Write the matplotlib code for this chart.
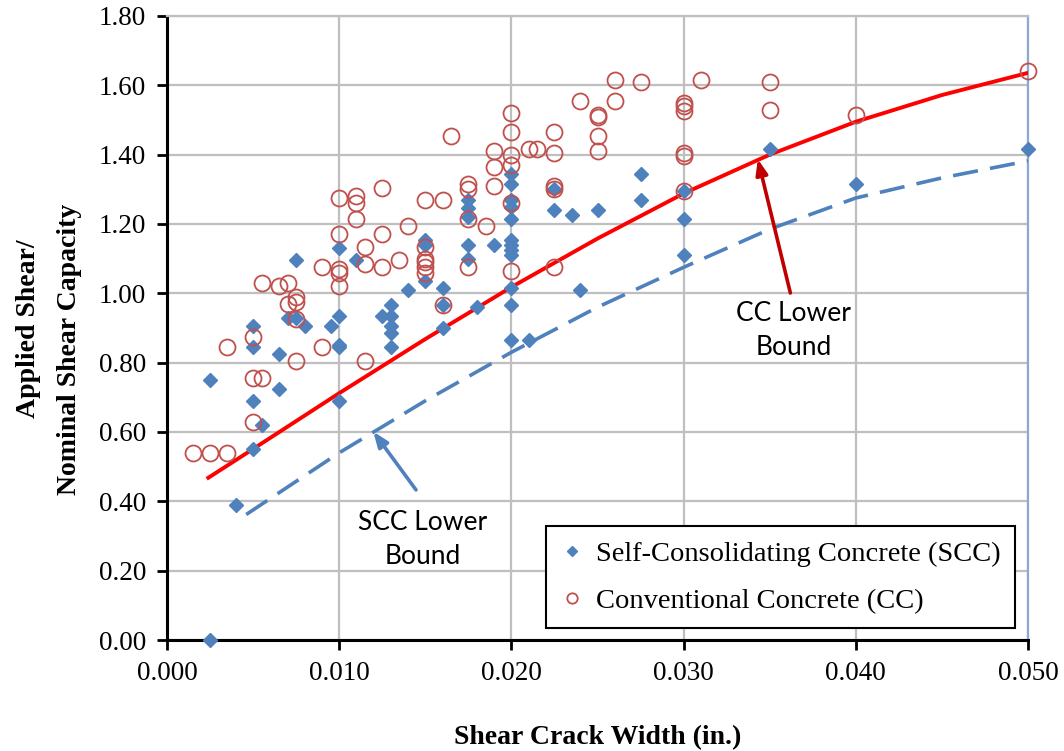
import matplotlib
matplotlib.use("Agg")
import matplotlib.pyplot as plt

# Self-consolidating concrete (SCC) test points
scc_x = [0.0025, 0.0025, 0.004, 0.005, 0.005, 0.005, 0.005, 0.0055, 0.0065, 0.0065,
         0.0075, 0.007, 0.0075, 0.008, 0.0095, 0.010, 0.010, 0.010, 0.010, 0.010,
         0.011, 0.020, 0.020, 0.020, 0.020, 0.020, 0.020, 0.020, 0.020, 0.020,
         0.020, 0.020, 0.020, 0.021, 0.0175, 0.0175, 0.0175, 0.0175, 0.0175, 0.019,
         0.015, 0.015, 0.015, 0.014, 0.016, 0.016, 0.016, 0.018, 0.013, 0.0125,
         0.013, 0.013, 0.013, 0.013, 0.0275, 0.0275, 0.0225, 0.0225, 0.0235, 0.025,
         0.030, 0.030, 0.030, 0.024, 0.035, 0.040, 0.050]
scc_y = [0.00, 0.75, 0.39, 0.55, 0.69, 0.845, 0.905, 0.62, 0.825, 0.725,
         1.095, 0.93, 0.93, 0.905, 0.905, 0.935, 0.85, 0.845, 0.69, 1.13,
         1.095, 1.345, 1.315, 1.27, 1.25, 1.215, 1.155, 1.14, 1.125, 1.11,
         1.015, 0.965, 0.865, 0.865, 1.27, 1.245, 1.22, 1.14, 1.10, 1.14,
         1.155, 1.14, 1.035, 1.01, 1.015, 0.965, 0.90, 0.96, 0.965, 0.935,
         0.935, 0.905, 0.885, 0.845, 1.345, 1.27, 1.30, 1.24, 1.225, 1.24,
         1.295, 1.215, 1.11, 1.01, 1.415, 1.315, 1.415]

# Conventional concrete (CC) test points
cc_x = [0.0015, 0.0025, 0.0035, 0.0035, 0.005, 0.005, 0.0055, 0.005, 0.0055, 0.0065,
        0.007, 0.007, 0.0075, 0.0075, 0.0075, 0.0075, 0.009, 0.009, 0.010, 0.010,
        0.010, 0.0165, 0.020, 0.019, 0.020, 0.020, 0.019, 0.021, 0.0215, 0.019,
        0.0175, 0.0175, 0.0125, 0.010, 0.011, 0.011, 0.015, 0.016, 0.020, 0.011,
        0.014, 0.0175, 0.0185, 0.010, 0.0125, 0.015, 0.0115, 0.0115, 0.0125, 0.0135,
        0.015, 0.015, 0.015, 0.015, 0.0175, 0.020, 0.016, 0.0115, 0.026, 0.0275,
        0.031, 0.024, 0.026, 0.025, 0.025, 0.030, 0.030, 0.030, 0.020, 0.0225,
        0.025, 0.025, 0.0225, 0.030, 0.030, 0.0225, 0.0225, 0.030, 0.0225, 0.035,
        0.035, 0.040, 0.050]
cc_y = [0.54, 0.54, 0.54, 0.845, 0.63, 0.755, 0.755, 0.875, 1.03, 1.02,
        1.03, 0.97, 0.99, 0.975, 0.925, 0.805, 1.075, 0.845, 1.07, 1.06,
        1.02, 1.455, 1.465, 1.41, 1.40, 1.37, 1.365, 1.415, 1.415, 1.31,
        1.315, 1.30, 1.305, 1.275, 1.28, 1.26, 1.27, 1.27, 1.26, 1.215,
        1.195, 1.215, 1.195, 1.17, 1.17, 1.135, 1.135, 1.085, 1.075, 1.095,
        1.10, 1.09, 1.075, 1.06, 1.075, 1.065, 0.965, 0.805, 1.615, 1.61,
        1.615, 1.555, 1.555, 1.515, 1.51, 1.55, 1.54, 1.525, 1.52, 1.465,
        1.455, 1.41, 1.405, 1.405, 1.395, 1.31, 1.30, 1.295, 1.075, 1.61,
        1.53, 1.515, 1.64]

# lower bound curves
cc_bound_x = [0.0024, 0.005, 0.010, 0.015, 0.020, 0.025, 0.030, 0.035, 0.040, 0.045, 0.050]
cc_bound_y = [0.468, 0.551, 0.712, 0.868, 1.018, 1.158, 1.288, 1.400, 1.495, 1.572, 1.636]
scc_bound_x = [0.0046, 0.010, 0.015, 0.020, 0.025, 0.030, 0.035, 0.040, 0.045, 0.050]
scc_bound_y = [0.362, 0.54, 0.69, 0.83, 0.96, 1.075, 1.185, 1.275, 1.333, 1.382]

x_ticks = [0.000, 0.010, 0.020, 0.030, 0.040, 0.050]
y_ticks = [0.00, 0.20, 0.40, 0.60, 0.80, 1.00, 1.20, 1.40, 1.60, 1.80]

BLUE = "#4F81BD"
RED_MARK = "#C0504D"
SERIF = "Liberation Serif"
SANS = "Lato"

fig = plt.figure(figsize=(10.64, 7.51), dpi=100)
ax = fig.add_axes([167 / 1064, 1 - 640 / 751, 861 / 1064, 624 / 751])

ax.plot(cc_bound_x, cc_bound_y, color="#FF0000", lw=2.8, zorder=3)
ax.plot(scc_bound_x, scc_bound_y, color=BLUE, lw=2.6, dashes=(7, 3.4), zorder=3)

ax.plot(scc_x, scc_y, "D", color=BLUE, ms=7.2, mec=BLUE, ls="none", zorder=4,
        clip_on=False, label="Self-Consolidating Concrete (SCC)")
ax.plot(cc_x, cc_y, "o", mfc="none", mec=RED_MARK, mew=1.3, ms=11.5, ls="none", zorder=4,
        clip_on=False, label="Conventional Concrete (CC)")

ax.set_xlim(0, 0.050)
ax.set_ylim(0, 1.80)
ax.set_xticks(x_ticks)
ax.set_yticks(y_ticks)
ax.set_xticklabels([f"{v:.3f}" for v in x_ticks], fontfamily=SERIF, fontsize=19.5)
ax.set_yticklabels([f"{v:.2f}" for v in y_ticks], fontfamily=SERIF, fontsize=19.5)
ax.tick_params(direction="out", length=7, width=2, pad=8)
ax.grid(True, color="#BFBFBF", lw=1.6)
ax.set_axisbelow(True)

for s in ["left", "bottom"]:
    ax.spines[s].set_linewidth(2.2)
    ax.spines[s].set_color("black")
    ax.spines[s].set_zorder(2.5)
ax.spines["top"].set_color("#BFBFBF")
ax.spines["top"].set_linewidth(1.6)
ax.spines["right"].set_color("#8EA9CF")
ax.spines["right"].set_linewidth(1.6)

ax.set_xlabel("Shear Crack Width (in.)", fontfamily=SERIF, fontsize=20,
              fontweight="bold", labelpad=28)
fig.text(29 / 1064, 1 - 329 / 751, "Applied Shear/", rotation=90, ha="center", va="center",
         fontfamily=SERIF, fontsize=20, fontweight="bold")
fig.text(70 / 1064, 1 - 349 / 751, "Nominal Shear Capacity", rotation=90, ha="center",
         va="center", fontfamily=SERIF, fontsize=20, fontweight="bold")

# annotations
ax.annotate("", xy=(0.03431, 1.387), xytext=(0.0362, 1.001),
            arrowprops=dict(arrowstyle="-|>,head_length=0.9,head_width=0.35",
                            color="#C00000", lw=2.6, shrinkA=0, shrinkB=0), zorder=5)
ax.text(0.0364, 0.893, "CC Lower\nBound", ha="center", va="center",
        fontfamily=SANS, fontsize=19, linespacing=1.45)
ax.annotate("", xy=(0.01198, 0.601), xytext=(0.01446, 0.433),
            arrowprops=dict(arrowstyle="-|>,head_length=0.9,head_width=0.35",
                            color=BLUE, lw=2.6, shrinkA=0, shrinkB=0), zorder=5)
ax.text(0.01487, 0.291, "SCC Lower\nBound", ha="center", va="center",
        fontfamily=SANS, fontsize=19, linespacing=1.45)

leg = ax.legend(loc="lower right", bbox_to_anchor=(0.985, 0.019),
                prop={"family": SERIF, "size": 20.5}, frameon=True, fancybox=False,
                edgecolor="black", framealpha=1, markerscale=0.65,
                handlelength=0.8, handletextpad=0.45, labelspacing=0.75, borderpad=0.5,
                borderaxespad=0)
leg.get_frame().set_linewidth(1.5)

fig.savefig("out.png", dpi=100)
